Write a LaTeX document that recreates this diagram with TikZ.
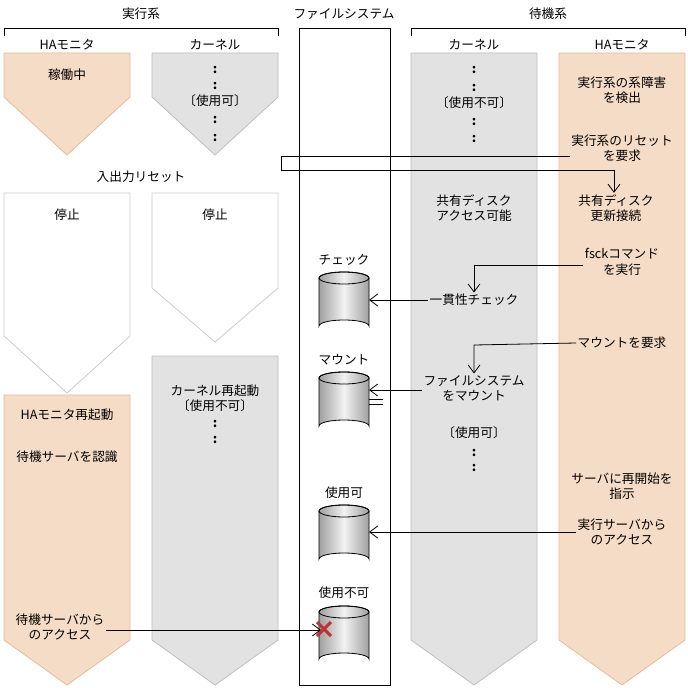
\documentclass[tikz,border=0pt]{standalone}
\usepackage{fontspec}
\setmainfont{Noto Sans CJK JP}
\usetikzlibrary{arrows.meta}
\definecolor{orf}{RGB}{245,220,198}
\definecolor{ord}{RGB}{232,186,150}
\definecolor{grf}{RGB}{226,226,226}
\definecolor{grd}{RGB}{190,190,190}
\definecolor{xred}{RGB}{190,50,50}
\begin{document}
\begin{tikzpicture}[x=0.75pt,y=-0.75pt,font=\fontsize{9.5}{11.5}\selectfont,
 t/.style={align=center,inner sep=1pt},
 dt/.style={inner sep=0pt,font=\fontsize{9.5}{9.5}\selectfont\bfseries},
 orp/.style={fill=orf,draw=ord,line width=0.6pt},
 grp/.style={fill=grf,draw=grd,line width=0.6pt},
 whp/.style={fill=white,draw=grd!80,line width=0.6pt},
 ln/.style={line width=0.6pt},
 ar/.style={ln,-{Straight Barb[length=6pt,width=9pt]}}]
\useasboundingbox (0,0) rectangle (688,688);
% headers
\node[t] (h1) at (141,14) {実行系};
\node[t] (h2) at (344,14) {ファイルシステム};
\node[t] (h3) at (548,14) {待機系};
\draw[ln] (4,36) -- (4,28) -- (278,28) -- (278,36);
\draw[ln] (411,36) -- (411,28) -- (685,28) -- (685,36);
\node[t] (l1) at (67,45) {HAモニタ};
\node[t] (l2) at (215,45) {カーネル};
\node[t] (l3) at (474,45) {カーネル};
\node[t] (l4) at (622,45) {HAモニタ};
% pentagons
\draw[orp] (4,53) -- (130,53) -- (130,97) -- (67,155) -- (4,97) -- cycle;
\draw[grp] (152,53) -- (278,53) -- (278,97) -- (215,155) -- (152,97) -- cycle;
\draw[grp] (411,53) -- (537,53) -- (537,640) -- (474,685) -- (411,640) -- cycle;
\draw[orp] (559,53) -- (685,53) -- (685,640) -- (622,685) -- (559,640) -- cycle;
\draw[whp] (4,193) -- (130,193) -- (130,336) -- (67,393) -- (4,336) -- cycle;
\draw[whp] (152,193) -- (278,193) -- (278,288) -- (215,342) -- (152,288) -- cycle;
\draw[grp] (152,356) -- (278,356) -- (278,640) -- (215,685) -- (152,640) -- cycle;
\draw[orp] (4,395) -- (130,395) -- (130,640) -- (67,685) -- (4,640) -- cycle;
% fs box
\draw[ln] (299,28) rectangle (390,685);
% texts
\node[t] (a1) at (67,75) {稼働中};
\node[dt] (b1) at (215,70) {:};
\node[dt] (b1b) at (215,86) {:};
\node[t] (b2) at (215,101) {〔使用可〕};
\node[dt] (b3) at (215,120) {:};
\node[dt] (b3b) at (215,138) {:};
\node[dt] (c1) at (474,70) {:};
\node[dt] (c1b) at (474,88) {:};
\node[t] (c2) at (474,103) {〔使用不可〕};
\node[dt] (c3) at (474,122) {:};
\node[dt] (c3b) at (474,139) {:};
\node[t] (c4) at (474,208) {共有ディスク\\アクセス可能};
\node[t] (c5) at (474,300) {一貫性チェック};
\node[t] (c6) at (474,388) {ファイルシステム\\をマウント};
\node[t] (c7) at (474,433) {〔使用可〕};
\node[dt] (c8) at (474,453) {:};
\node[dt] (c8b) at (474,468) {:};
\node[t] (d1) at (622,90) {実行系の系障害\\を検出};
\node[t] (d2) at (622,148) {実行系のリセット\\を要求};
\node[t] (d3) at (616,208) {共有ディスク\\更新接続};
\node[t] (d4) at (622,262) {fsckコマンド\\を実行};
\node[t] (d5) at (622,343) {マウントを要求};
\node[t] (d6) at (622,486) {サーバに再開始を\\指示};
\node[t] (d7) at (622,532) {実行サーバから\\のアクセス};
\node[t] (e0) at (141,177) {入出力リセット};
\node[t] (e1) at (67,215) {停止};
\node[t] (e2) at (215,215) {停止};
\node[t] (e3) at (215,398) {カーネル再起動\\〔使用不可〕};
\node[dt] (e4) at (215,424) {:};
\node[dt] (e4b) at (215,440) {:};
\node[t] (f1) at (67,415) {HAモニタ再起動};
\node[t] (f2) at (67,457) {待機サーバを認識};
\node[t] (f3) at (60,627) {待機サーバから\\のアクセス};
% cylinders
\newcommand{\mycyl}[3]{%
 \shade[left color=gray!75,right color=gray!75,middle color=gray!10,draw=black,line width=0.6pt]
  (319,#2) -- (319,#3) arc[start angle=180,end angle=360,x radius=25,y radius=6] -- (369,#2) arc[start angle=0,end angle=180,x radius=25,y radius=-6] -- cycle;
 \draw[line width=0.6pt] (344,#2) ellipse[x radius=25,y radius=6];
 \coordinate (#1) at (369,{(#2+#3)/2});}
\node[t] (k1) at (344,260) {チェック};
\mycyl{cy1}{278}{326}
\node[t] (k2) at (344,360) {マウント};
\mycyl{cy2}{378}{426}
\node[t] (k3) at (344,493) {使用可};
\mycyl{cy3}{511}{559}
\node[t] (k4) at (344,593) {使用不可};
\mycyl{cy4}{612}{659}
% connectors
\coordinate (r1) at (281,156); \coordinate (r2) at (281,170);
\draw[ar] (d2.west|-r1) -- (r1) -- (r2) -- (614,170) -- (d3.north-|614,0);
\draw[ar] (d4.west|-0,265) -- (474,265) -- (c5.north);
\draw[ar] (c5.west) -- (cy1|-c5.west);
\draw[ar] (d5.west) -- (474,345) -- (c6.north);
\draw[ar] (c6.west|-0,390) -- (cy2|-0,390);
\draw[ln] (369,399) -- (383,399) (369,404) -- (383,404);
\draw[ar] (d7.west) -- (cy3|-d7.west);
\coordinate (x0) at (321,630);
\draw[ar] (f3.east|-x0) -- (x0);
\draw[xred,line width=2.2pt] (317,622) -- (331,636) (331,622) -- (317,636);
\end{tikzpicture}
\end{document}
